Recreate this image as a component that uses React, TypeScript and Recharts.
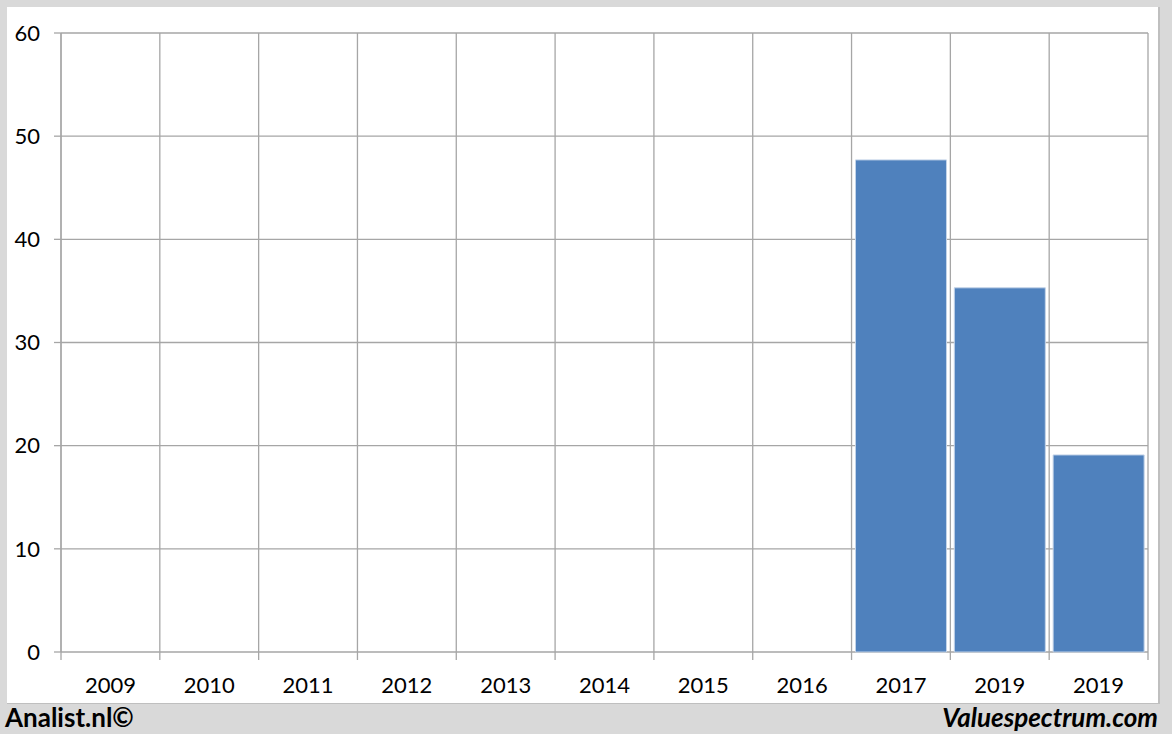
import { BarChart, Bar, XAxis, YAxis, CartesianGrid } from "recharts"

const years = ["2009", "2010", "2011", "2012", "2013", "2014", "2015", "2016", "2017", "2019", "2019"]
const values = [0, 0, 0, 0, 0, 0, 0, 0, 47.7, 35.3, 19.1]
const yTicks = [0, 10, 20, 30, 40, 50, 60]
const boundaries = [0, 1, 2, 3, 4, 5, 6, 7, 8, 9, 10, 11]

const data = years.map((year, i) => ({ key: `${i}`, year, value: values[i] }))

const grid = "#a6a6a6"
const font = "Lato, 'Open Sans', sans-serif"

export default function App() {
  return (
    <div style={{ position: "absolute", left: 0, top: 0, width: 1172, height: 734, background: "#d9d9d9", fontFamily: font }}>
      <div style={{ position: "absolute", left: 7, top: 7, width: 1151, height: 696, background: "#fff", borderRight: "2px solid #bfbfbf", borderBottom: "1px solid #bfbfbf" }} />
      <div style={{ position: "absolute", left: 0, top: 0 }}>
        <BarChart width={1172} height={734} data={data} margin={{ top: 33, right: 24, bottom: 40, left: 8 }} barCategoryGap="4%">
          <CartesianGrid stroke={grid} strokeWidth={1.3} xAxisId="a" />
          <XAxis
            xAxisId="a"
            type="number"
            dataKey="idx"
            domain={[0, 11]}
            ticks={boundaries}
            allowDataOverflow
            height={8}
            axisLine={false}
            tickLine={{ stroke: grid, strokeWidth: 1.3 }}
            tickSize={8}
            tickFormatter={() => ""}
          />
          <XAxis
            xAxisId="b"
            dataKey="key"
            height={34}
            axisLine={false}
            tickLine={false}
            tickMargin={11}
            interval={0}
            tickFormatter={(v: string) => years[Number(v)]}
            tick={{ fill: "#000", fontSize: 22, fontFamily: font }}
          />
          <YAxis
            domain={[0, 60]}
            ticks={yTicks}
            width={53}
            axisLine={{ stroke: grid, strokeWidth: 1.3 }}
            tickLine={{ stroke: grid, strokeWidth: 1.3 }}
            tickSize={7}
            tickMargin={14}
            tick={{ fill: "#000", fontSize: 22, fontFamily: font }}
          />
          <Bar xAxisId="b" dataKey="value" fill="#4f81bd" stroke="#c3d3e8" strokeWidth={1} isAnimationActive={false} />
        </BarChart>
      </div>
      <div style={{ position: "absolute", left: 5, top: 701, fontSize: 26, fontWeight: 700, color: "#000" }}>Analist.nl©</div>
      <div style={{ position: "absolute", right: 14, top: 701, fontSize: 26, fontWeight: 700, fontStyle: "italic", color: "#000" }}>Valuespectrum.com</div>
    </div>
  )
}
